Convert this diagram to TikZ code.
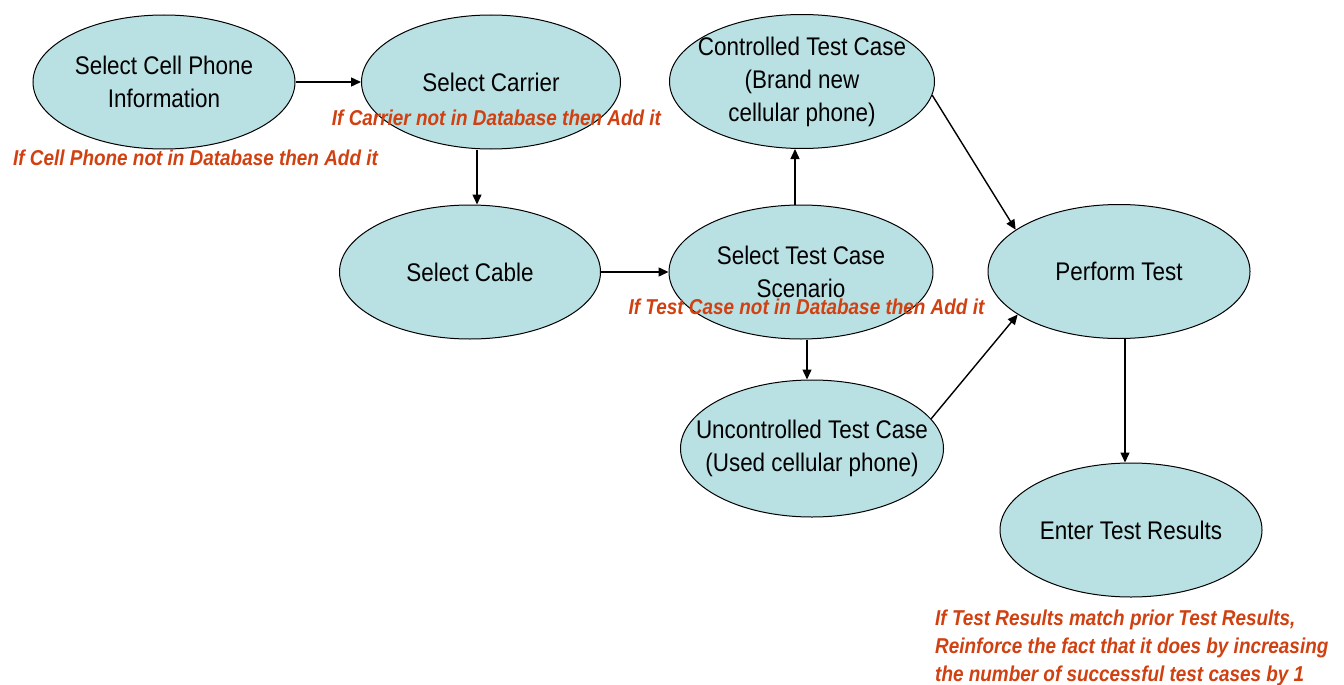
\documentclass[tikz,border=0pt]{standalone}
\usepackage{fontspec}
\setmainfont{Liberation Sans}[FakeStretch=0.88]
\usetikzlibrary{arrows.meta,shapes.geometric}
\definecolor{cellfill}{RGB}{185,224,227}
\definecolor{notered}{RGB}{208,64,16}
\tikzset{
  stage/.style={ellipse,draw=black,line width=1pt,fill=cellfill,minimum width=262pt,minimum height=134pt,inner sep=-30pt,align=center,font=\fontsize{25.5}{33}\selectfont},
  arr/.style={line width=1.4pt,-{Triangle[length=10pt,width=9pt]}},
  note/.style={text=notered,font=\fontsize{21.5}{28}\selectfont\bfseries\itshape,inner sep=0pt}
}
\begin{document}
\begin{tikzpicture}[x=1pt,y=-1pt]
\useasboundingbox (0,0) rectangle (1344,685);
\node[stage] (phone) at (164,82) {Select Cell Phone\\Information};
\node[stage,minimum width=259pt] (carrier) at (491,82) {Select Carrier};
\node[stage,minimum width=265pt] (controlled) at (802,81.5) {Controlled Test Case\\(Brand new\\cellular phone)};
\node[stage,minimum width=261pt] (cable) at (470,272) {Select Cable};
\node[stage,minimum width=264pt] (scenario) at (801,272) {Select Test Case\\Scenario};
\node[stage] (perform) at (1119,271.5) {Perform Test};
\node[stage,minimum width=263pt,minimum height=137pt] (uncontrolled) at (812,448.5) {Uncontrolled Test Case\\(Used cellular phone)};
\node[stage] (enter) at (1131,530) {Enter Test Results};

\draw[arr] (phone.east) -- (carrier.west);
\draw[arr] ([xshift=-14pt]carrier.south) -- ([xshift=7pt]cable.north);
\draw[arr] (cable.east) -- (scenario.west);
\draw[arr] ([xshift=-6pt]scenario.north) -- ([xshift=-7pt]controlled.south);
\draw[arr] ([xshift=6pt]scenario.south) -- ([xshift=-5pt]uncontrolled.north);
\draw[arr] (controlled.354) -- (perform.158);
\draw[arr] (uncontrolled.14) -- (perform.203);
\draw[arr] ([xshift=6pt]perform.south) -- ([xshift=-6pt]enter.north);

\node[note] (n1) at (195.5,158) {If Cell Phone not in Database then Add it};
\node[note] (n2) at (496.5,118) {If Carrier not in Database then Add it};
\node[note] (n3) at (806.5,307) {If Test Case not in Database then Add it};
\node[note,align=left,anchor=west] (n4) at (935,648) {If Test Results match prior Test Results,\\Reinforce the fact that it does by increasing\\the number of successful test cases by 1};
\end{tikzpicture}
\end{document}
